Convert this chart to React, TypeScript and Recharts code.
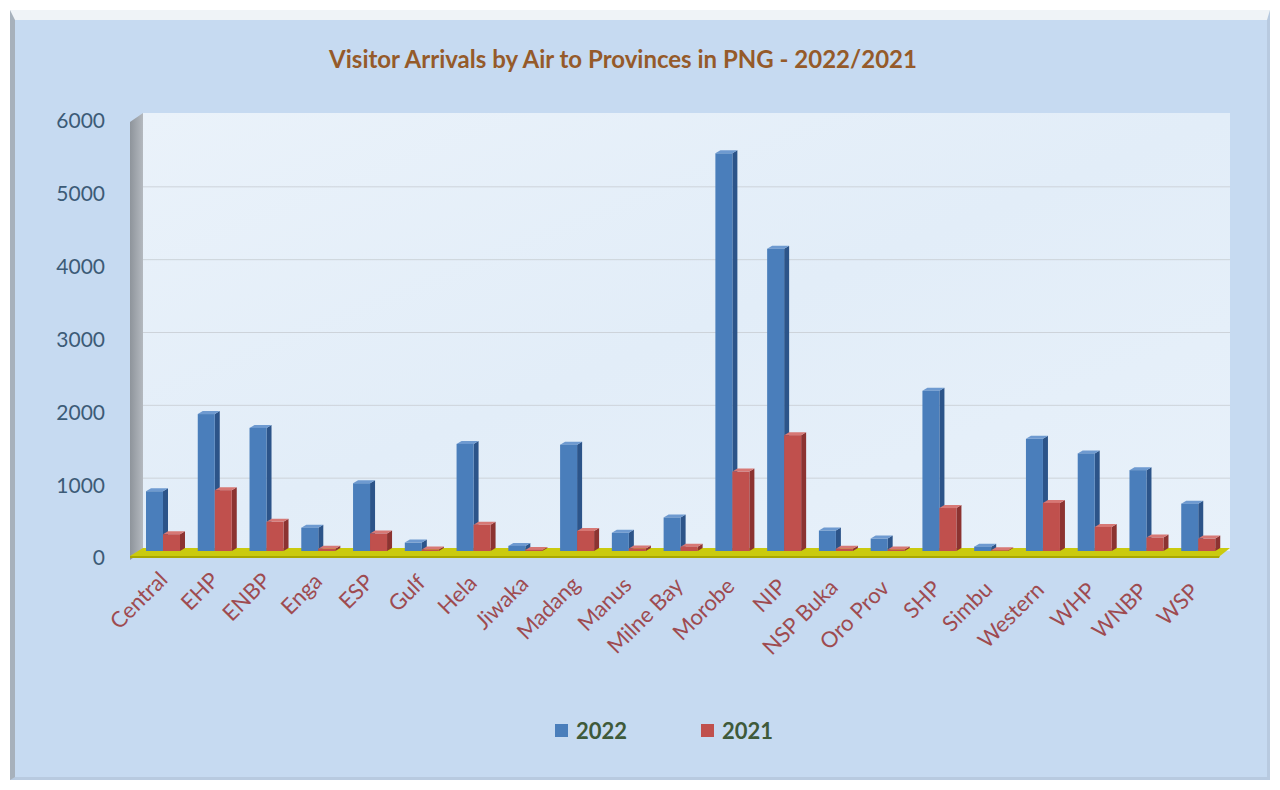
import { Bar, BarChart, CartesianGrid, XAxis, YAxis } from "recharts";

const provinces = [
  "Central", "EHP", "ENBP", "Enga", "ESP", "Gulf", "Hela", "Jiwaka", "Madang", "Manus", "Milne Bay",
  "Morobe", "NIP", "NSP Buka", "Oro Prov", "SHP", "Simbu", "Western", "WHP", "WNBP", "WSP",
];
const arrivals2022 = [820, 1880, 1690, 320, 930, 115, 1470, 70, 1460, 250, 460, 5460, 4150, 280, 170, 2200, 60, 1540, 1340, 1110, 650];
const arrivals2021 = [230, 835, 400, 30, 240, 20, 360, 15, 275, 35, 60, 1090, 1590, 30, 20, 590, 10, 660, 330, 185, 170];
const yTicks = [0, 1000, 2000, 3000, 4000, 5000, 6000];

const data = provinces.map((name, i) => ({ name, y2022: arrivals2022[i], y2021: arrivals2021[i] }));

const FONT = "Lato, 'Open Sans', sans-serif";

// front face + darker right side + lighter cap, so the bars read as 3D columns
function Column(props: any) {
  const { x, y, width, height, fill, side, cap } = props;
  if (!height || height <= 0) return null;
  const d = 5;
  const dv = 3;
  const fx = x - 6;
  const base = y + height;
  return (
    <g>
      <polygon
        points={`${fx + width},${y} ${fx + width + d},${y - dv} ${fx + width + d},${base - dv} ${fx + width},${base}`}
        fill={side}
      />
      <polygon points={`${fx},${y} ${fx + d},${y - dv} ${fx + width + d},${y - dv} ${fx + width},${y}`} fill={cap} />
      <rect x={fx} y={y} width={width} height={height} fill={fill} />
    </g>
  );
}

function YTick({ x, y, payload }: any) {
  return (
    <text x={x - 38} y={y + 7} dy="0.35em" textAnchor="end" fontFamily={FONT} fontSize={21} fill="#3C5B77">
      {payload.value}
    </text>
  );
}

// labels sit a little lower towards the right, as in the perspective view
function XTick({ x, y, payload, index }: any) {
  const i = index ?? 0;
  const tx = x - i * 0.2;
  const ty = y + 30 + i * 0.6;
  return (
    <text x={tx} y={ty} textAnchor="end" transform={`rotate(-45 ${tx} ${ty})`} fontFamily={FONT} fontSize={22} fill="#9E4B50">
      {payload.value}
    </text>
  );
}

function LegendItem({ color, label }: { color: string; label: string }) {
  return (
    <div style={{ display: "flex", alignItems: "center", gap: 8 }}>
      <div style={{ width: 13, height: 13, background: color }} />
      <span style={{ fontFamily: FONT, fontWeight: 700, fontSize: 22, color: "#3F5A3A" }}>{label}</span>
    </div>
  );
}

export default function App() {
  return (
    <div style={{ position: "relative", width: 1264, height: 774, background: "#fff" }}>
      <div
        style={{
          position: "absolute",
          left: 2,
          top: 2,
          width: 1260,
          height: 770,
          boxSizing: "border-box",
          background: "#C6DAF1",
          borderTop: "10px solid #EFF3F7",
          borderLeft: "5px solid #A7B1BC",
          borderRight: "3px solid #B8CAE0",
          borderBottom: "3px solid #B8CAE0",
        }}
      />
      <svg width={1264} height={774} style={{ position: "absolute", left: 0, top: 0 }}>
        <defs>
          <linearGradient id="wall" x1="0" y1="0" x2="1" y2="0">
            <stop offset="0%" stopColor="#8E949B" />
            <stop offset="100%" stopColor="#B4B9BF" />
          </linearGradient>
          <linearGradient id="plotbg" x1="0" y1="0" x2="1" y2="1">
            <stop offset="0%" stopColor="#EAF2FA" />
            <stop offset="50%" stopColor="#E2EDF8" />
            <stop offset="100%" stopColor="#E8F1FA" />
          </linearGradient>
        </defs>
        <rect x={135} y={105} width={1087} height={438} fill="url(#plotbg)" />
        <polygon points="122,114 135,105 135,543 122,552" fill="url(#wall)" />
        <polygon points="135,540 1222,540 1212,548 122,548" fill="#CACA0E" />
        <polygon points="122,548 1212,548 1211,550 122,550" fill="#A9A800" />
      </svg>
      <div
        style={{
          position: "absolute",
          left: 0,
          top: 36,
          width: 1230,
          textAlign: "center",
          fontFamily: FONT,
          fontWeight: 700,
          fontSize: 24,
          color: "#955A2A",
        }}
      >
        Visitor Arrivals by Air to Provinces in PNG - 2022/2021
      </div>
      <div style={{ position: "absolute", left: 0, top: 0 }}>
        <BarChart
          width={1264}
          height={774}
          data={data}
          margin={{ top: 106, right: 42, left: 0, bottom: 0 }}
          barSize={17}
          barGap={0}
        >
          <CartesianGrid vertical={false} stroke="#CDD3DA" horizontalValues={[1000, 2000, 3000, 4000, 5000]} />
          <XAxis dataKey="name" interval={0} height={231} tickLine={false} axisLine={false} tickSize={0} tickMargin={0} tick={<XTick />} />
          <YAxis
            domain={[0, 6000]}
            ticks={yTicks}
            width={135}
            tickLine={false}
            axisLine={false}
            tickSize={0}
            tickMargin={0}
            tick={<YTick />}
          />
          <Bar
            dataKey="y2022"
            name="2022"
            fill="#4A7EBB"
            isAnimationActive={false}
            shape={(p: any) => <Column {...p} fill="#4A7EBB" side="#2C5489" cap="#6E9AD0" />}
          />
          <Bar
            dataKey="y2021"
            name="2021"
            fill="#C0504D"
            isAnimationActive={false}
            shape={(p: any) => <Column {...p} fill="#C0504D" side="#8C3331" cap="#D77875" />}
          />
        </BarChart>
      </div>
      <div style={{ position: "absolute", left: 547, top: 709, display: "flex", gap: 74 }}>
        <LegendItem color="#4A7EBB" label="2022" />
        <LegendItem color="#C0504D" label="2021" />
      </div>
    </div>
  );
}
